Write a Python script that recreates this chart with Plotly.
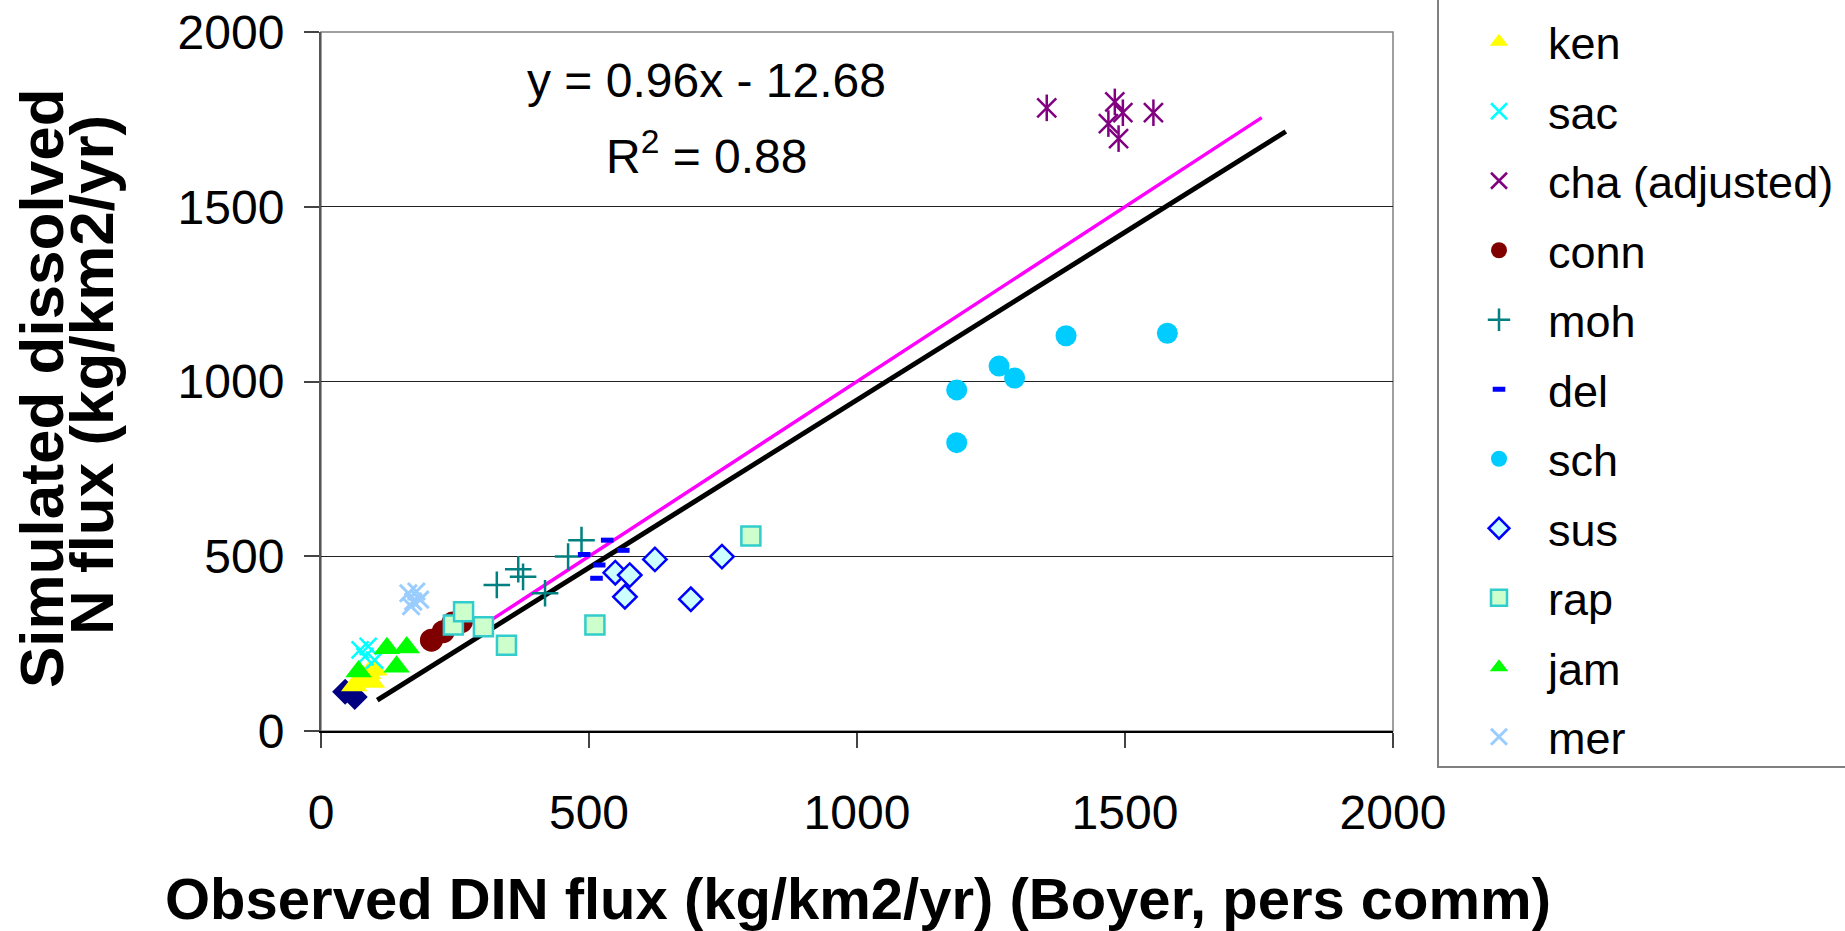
import plotly.graph_objects as go

FONT = "Liberation Sans, Arial, sans-serif"

# ---------------- data ----------------
pen_x = [45, 63]
pen_y = [112, 97]
ken_x = [62, 75, 88, 100, 95]
ken_y = [130, 150, 165, 175, 140]
sac_x = [73, 88, 82, 100]
sac_y = [232, 242, 213, 203]
cha_x = [1354, 1481, 1496, 1469, 1488, 1553]
cha_y = [1783, 1800, 1769, 1738, 1695, 1769]
conn_x = [206, 228, 246, 262]
conn_y = [260, 284, 309, 313]
moh_x = [328, 368, 377, 418, 461, 486]
moh_y = [418, 463, 441, 394, 499, 546]
del_x = [534, 491, 564, 519, 514]
del_y = [546, 505, 517, 475, 437]
sch_x = [1186, 1186, 1265, 1294, 1390, 1579]
sch_y = [976, 825, 1044, 1010, 1131, 1138]
sus_x = [549, 576, 567, 623, 690, 748]
sus_y = [453, 446, 384, 491, 377, 499]
rap_x = [247, 266, 303, 346, 511, 802]
rap_y = [303, 341, 298, 245, 303, 558]
jam_x = [70, 123, 141, 160]
jam_y = [170, 237, 184, 239]
mer_x = [163, 178, 172, 185, 168]
mer_y = [394, 399, 370, 376, 357]

fit_slope, fit_intercept = 0.96, -12.68
fit_x = [105, 1800]
one_to_one_x = [300, 1755]

x_ticks = [0, 500, 1000, 1500, 2000]
y_ticks = [0, 500, 1000, 1500, 2000]

fig = go.Figure()

def add(x, y, name, symbol, color, size, line_color=None, line_width=0, showlegend=True, group=None):
    fig.add_trace(go.Scatter(
        x=x, y=y, mode="markers", name=name, showlegend=showlegend,
        legendgroup=group or name,
        marker=dict(symbol=symbol, color=color, size=size,
                    line=dict(color=line_color or color, width=line_width)),
    ))

# lines
fig.add_trace(go.Scatter(x=one_to_one_x, y=one_to_one_x, mode="lines",
                         line=dict(color="#FF00FF", width=3.5), showlegend=False,
                         legendgroup="one_to_one"))
fig.add_trace(go.Scatter(x=fit_x, y=[fit_slope * v + fit_intercept for v in fit_x], mode="lines",
                         line=dict(color="#000000", width=5), showlegend=False,
                         legendgroup="fit"))

add(pen_x, pen_y, "pen", "diamond", "#000080", 20, showlegend=False)
add(ken_x, ken_y, "ken", "triangle-up", "#FFFF00", 23)
add(sac_x, sac_y, "sac", "x-thin-open", "#00FFFF", 17, line_width=2.5)
add(cha_x, cha_y, "cha (adjusted)", "x-thin-open", "#800080", 19, line_width=2.5)
add(cha_x, cha_y, "cha2", "line-ns-open", "#800080", 19, line_width=2.5, showlegend=False,
    group="cha (adjusted)")
add(conn_x, conn_y, "conn", "circle", "#800000", 23)
add(moh_x, moh_y, "moh", "cross-thin-open", "#008080", 19, line_width=2.5)
add(del_x, del_y, "del", "line-ew-open", "#0000FF", 9, line_width=5)
add(sch_x, sch_y, "sch", "circle", "#00CCFF", 21)
add(sus_x, sus_y, "sus", "diamond", "#CCFFFF", 18, line_color="#0000FF", line_width=2.5)
add(rap_x, rap_y, "rap", "square", "#CCFFCC", 19, line_color="#33CCCC", line_width=2.5)
add(jam_x, jam_y, "jam", "triangle-up", "#00FF00", 23)
add(mer_x, mer_y, "mer", "x-thin-open", "#99CCFF", 17, line_width=3)

L, R, T, B = 321, 1393, 32, 731
W, H = 1845, 931
pw, ph = R - L, B - T

def px(X):
    return (X - L) / pw

def py(Y):
    return (B - Y) / ph

fig.update_layout(
    width=W, height=H,
    margin=dict(l=L, r=W - R, t=T, b=H - B, autoexpand=False),
    paper_bgcolor="white", plot_bgcolor="white",
    font=dict(family=FONT, color="black", size=46),
    showlegend=True,
    legend=dict(x=px(1450), xanchor="left", y=py(6), yanchor="top",
                font=dict(family=FONT, size=45, color="black"),
                bgcolor="rgba(0,0,0,0)", borderwidth=0, maxheight=1.0,
                itemwidth=88, tracegroupgap=8, traceorder="grouped"),
    xaxis=dict(range=[0, 2000], tickvals=x_ticks, ticks="outside", ticklen=15, tickwidth=1.5,
               tickcolor="#444", showgrid=False, zeroline=False, showline=True,
               linecolor="black", linewidth=2, tickfont=dict(size=48),
               ticklabelstandoff=23),
    yaxis=dict(range=[0, 2000], tickvals=y_ticks, ticks="outside", ticklen=15, tickwidth=1.5,
               tickcolor="#444", showgrid=True, gridcolor="#222", gridwidth=1, zeroline=False,
               showline=True, linecolor="#555", linewidth=2, tickfont=dict(size=48),
               ticklabelstandoff=10),
    shapes=[
        dict(type="rect", xref="paper", yref="paper", x0=0, y0=0, x1=1, y1=1,
             line=dict(color="#808080", width=1.5), layer="below"),
        dict(type="rect", xref="paper", yref="paper", x0=px(1438), y0=py(767),
             x1=px(1900), y1=py(-40), line=dict(color="#808080", width=2)),
    ],
    annotations=[
        dict(text="y = 0.96x - 12.68", xref="paper", yref="paper", x=px(706), y=py(80),
             showarrow=False, font=dict(size=48), xanchor="center", yanchor="middle"),
        dict(text="R<sup>2</sup> = 0.88", xref="paper", yref="paper", x=px(706), y=py(153),
             showarrow=False, font=dict(size=48), xanchor="center", yanchor="middle"),
        dict(text="<b>Observed DIN flux (kg/km2/yr) (Boyer, pers comm)</b>", xref="paper",
             yref="paper", x=px(858), y=py(898), showarrow=False, font=dict(size=58),
             xanchor="center", yanchor="middle"),
        dict(text="<b>Simulated dissolved</b>", xref="paper", yref="paper", x=px(42), y=py(388),
             showarrow=False, font=dict(size=62), textangle=-90, xanchor="center", yanchor="middle"),
        dict(text="<b>N flux (kg/km2/yr)</b>", xref="paper", yref="paper", x=px(91), y=py(375),
             showarrow=False, font=dict(size=62), textangle=-90, xanchor="center", yanchor="middle"),
    ],
)

fig.write_html("out.html", config={"displayModeBar": False},
               post_script="document.body.style.margin='0';document.body.style.overflow='hidden';")
